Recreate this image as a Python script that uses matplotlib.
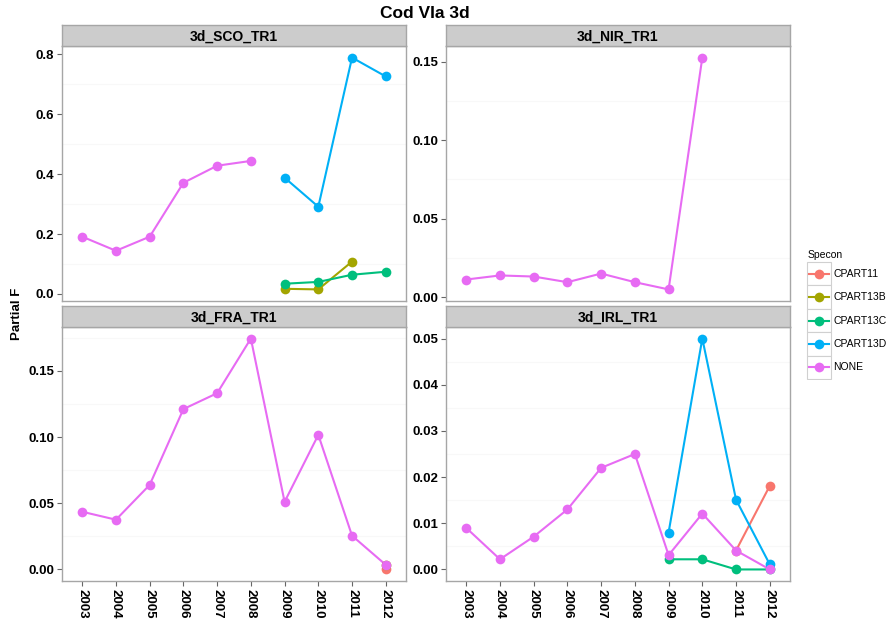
import numpy as np
import matplotlib
matplotlib.use("Agg")
import matplotlib.pyplot as plt
import matplotlib.patches as patches
from matplotlib.ticker import MultipleLocator, FormatStrFormatter

plt.rcParams['font.family'] = ['Liberation Sans', 'DejaVu Sans']

nan = np.nan
years = [2003, 2004, 2005, 2006, 2007, 2008, 2009, 2010, 2011, 2012]
specon = ['CPART11', 'CPART13B', 'CPART13C', 'CPART13D', 'NONE']
colors = ['#F8766D', '#A3A500', '#00BF7D', '#00B0F6', '#E76BF3']

# 3d_SCO_TR1
sco_none = [0.191, 0.144, 0.191, 0.371, 0.428, 0.444, nan, nan, nan, nan]
sco_13b = [nan, nan, nan, nan, nan, nan, 0.017, 0.015, 0.108, nan]
sco_13c = [nan, nan, nan, nan, nan, nan, 0.034, 0.040, 0.064, 0.074]
sco_13d = [nan, nan, nan, nan, nan, nan, 0.388, 0.291, 0.789, 0.726]
# 3d_NIR_TR1
nir_none = [0.0112, 0.0138, 0.0131, 0.0095, 0.0150, 0.0095, 0.0049, 0.1526, nan, nan]
# 3d_FRA_TR1
fra_11 = [nan, nan, nan, nan, nan, nan, nan, nan, nan, 0.0]
fra_13b = [nan, nan, nan, nan, nan, nan, nan, nan, nan, 0.003]
fra_none = [0.0436, 0.0376, 0.0639, 0.1212, 0.1332, 0.1745, 0.0511, 0.1017, 0.0255, 0.0035]
# 3d_IRL_TR1
irl_11 = [nan, nan, nan, nan, nan, nan, nan, nan, 0.0041, 0.0181]
irl_13c = [nan, nan, nan, nan, nan, nan, 0.0022, 0.0022, 0.0, 0.0]
irl_13d = [nan, nan, nan, nan, nan, nan, 0.0080, 0.0500, 0.0151, 0.0011]
irl_none = [0.0090, 0.0022, 0.0071, 0.0130, 0.0220, 0.0250, 0.0031, 0.0121, 0.0041, 0.0]

panels = [
    ('3d_SCO_TR1', {'CPART13B': sco_13b, 'CPART13C': sco_13c, 'CPART13D': sco_13d, 'NONE': sco_none}, 0.2, '%.1f'),
    ('3d_NIR_TR1', {'NONE': nir_none}, 0.05, '%.2f'),
    ('3d_FRA_TR1', {'CPART11': fra_11, 'CPART13B': fra_13b, 'NONE': fra_none}, 0.05, '%.2f'),
    ('3d_IRL_TR1', {'CPART11': irl_11, 'CPART13C': irl_13c, 'CPART13D': irl_13d, 'NONE': irl_none}, 0.01, '%.2f'),
]

W, H = 888, 622
fig = plt.figure(figsize=(W / 100, H / 100), dpi=100)

def px_axes(x0, y0, x1, y1):
    return fig.add_axes([x0 / W, 1 - y1 / H, (x1 - x0) / W, (y1 - y0) / H])

# panel boxes in pixels: (x0, strip_top, panel_top, x1, panel_bottom)
boxes = [(62, 25, 46, 406, 301), (446, 25, 46, 790, 301),
         (62, 306, 327, 406, 581), (446, 306, 327, 790, 581)]

border = '#A6A6A6'
for i, (name, series, step, fmt) in enumerate(panels):
    x0, st, pt, x1, pb = boxes[i]
    ax = px_axes(x0, pt, x1, pb)
    # lines first, then points (like geom_line + geom_point)
    for s in specon:
        if s in series:
            y = np.array(series[s], dtype=float)
            ok = ~np.isnan(y)
            ax.plot(np.array(years)[ok], y[ok], color=colors[specon.index(s)], lw=1.5, zorder=2)
    for s in specon:
        if s in series:
            y = np.array(series[s], dtype=float)
            ok = ~np.isnan(y)
            ax.plot(np.array(years)[ok], y[ok], 'o', color=colors[specon.index(s)], ms=7, mew=0, zorder=3)
    ax.margins(y=0.05)
    ax.set_xlim(2002.4, 2012.6)
    ax.yaxis.set_major_locator(MultipleLocator(step))
    ax.yaxis.set_minor_locator(MultipleLocator(step / 2))
    ax.yaxis.set_major_formatter(FormatStrFormatter(fmt))
    ax.grid(True, which='minor', axis='y', color='#F8F8F8', lw=0.8)
    ax.set_axisbelow(True)
    ax.tick_params(axis='y', which='minor', length=0)
    ax.tick_params(axis='both', which='major', length=3.5, width=0.8, color='#666666',
                   labelsize=9.5, pad=2)
    for lab in ax.get_yticklabels():
        lab.set_fontweight('bold')
    ax.set_xticks(years)
    if i >= 2:
        ax.set_xticklabels([str(y) for y in years], rotation=-90, fontweight='bold', fontsize=9.5)
    else:
        ax.tick_params(axis='x', length=0, labelbottom=False)
    for sp in ax.spines.values():
        sp.set_color(border)
        sp.set_linewidth(1)

    sax = px_axes(x0, st, x1, pt)
    sax.set_facecolor('#CCCCCC')
    sax.set_xticks([])
    sax.set_yticks([])
    for sp in sax.spines.values():
        sp.set_color(border)
        sp.set_linewidth(1)
    sax.text(0.5, 0.45, name, ha='center', va='center', fontsize=10, fontweight='bold',
             transform=sax.transAxes)

fig.text(425 / W, 1 - 13 / H, 'Cod VIa 3d', ha='center', va='center', fontsize=12.5, fontweight='bold')
fig.text(17 / W, 1 - 314 / H, 'Partial F', ha='center', va='center', rotation=90,
         fontsize=9.5, fontweight='bold')

# legend
lax = px_axes(790, 230, 888, 380)
lax.set_xlim(0, 98)
lax.set_ylim(150, 0)
lax.axis('off')
lax.text(18, 25, 'Specon', fontsize=7.5, va='center', ha='left')
for k, (s, c) in enumerate(zip(specon, colors)):
    top = 32 + k * 23.4
    lax.add_patch(patches.Rectangle((17, top), 24, 23.4, facecolor='white', edgecolor='#D0D0D0', lw=0.8))
    yc = top + 11.7
    lax.plot([19, 39], [yc, yc], color=c, lw=1.5)
    lax.plot([29], [yc], 'o', color=c, ms=7, mew=0)
    lax.text(43, yc, s, fontsize=7.5, va='center', ha='left')

plt.savefig('out.png', dpi=100)
